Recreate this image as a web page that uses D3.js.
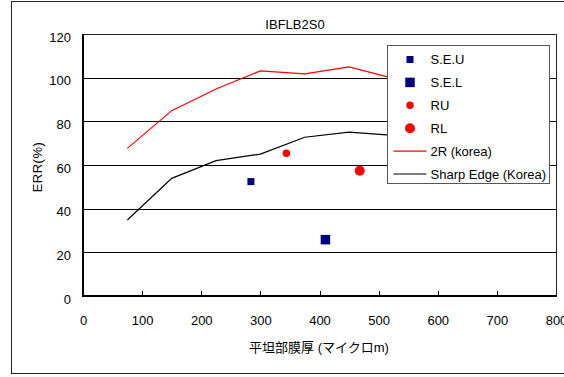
<!DOCTYPE html>
<html>
<head>
<meta charset="utf-8">
<script src="https://cdn.jsdelivr.net/npm/d3@7"></script>
<style>
  html, body { margin: 0; padding: 0; background: #fff; }
  svg { display: block; }
  text { font-family: "Liberation Sans", Arial, sans-serif; font-size: 13px; fill: #000; }
</style>
</head>
<body>
<svg id="chart" width="564" height="377"></svg>
<script>
// Film thickness (micron) vs ERR (%)
const chartTitle = "IBFLB2S0";
const xTicks = [0, 100, 200, 300, 400, 500, 600, 700, 800];
const yTicks = [0, 20, 40, 60, 80, 100, 120];

// Reference curves
const korea2R = [[75, 67.6], [150, 84.9], [225, 94.8], [300, 103.1], [375, 101.7], [450, 104.9], [525, 99.7]];
const sharpEdge = [[75, 34.8], [150, 53.9], [225, 62.0], [300, 65.0], [375, 72.7], [450, 75.1], [525, 73.6]];

// Measured points
const seU = [[284, 52.4]];
const seL = [[410, 25.8]];
const rU = [[344, 65.4]];
const rL = [[468, 57.4]];

const legendItems = [
  { label: "S.E.U", kind: "square", size: 7, color: "#000080" },
  { label: "S.E.L", kind: "square", size: 9.5, color: "#000080" },
  { label: "RU", kind: "circle", size: 7.5, color: "#ff0000" },
  { label: "RL", kind: "circle", size: 10, color: "#ff0000" },
  { label: "2R (korea)", kind: "line", color: "#ff0000" },
  { label: "Sharp Edge (Korea)", kind: "line", color: "#000000" }
];

const svg = d3.select("#chart");
const plot = { left: 83, top: 34, right: 556, bottom: 296 };

const x = d3.scaleLinear().domain([0, 800]).range([plot.left, plot.right]);
const y = d3.scaleLinear().domain([0, 120]).range([plot.bottom, plot.top]);

// outer frame
svg.append("rect")
  .attr("x", 11.5).attr("y", 1.5).attr("width", 600).attr("height", 372)
  .attr("fill", "none").attr("stroke", "#222").attr("stroke-width", 1);

// horizontal gridlines
svg.append("g")
  .selectAll("line")
  .data(yTicks.filter(d => d > 0 && d < 120))
  .join("line")
  .attr("x1", plot.left).attr("x2", plot.right)
  .attr("y1", d => Math.round(y(d)) + 0.5).attr("y2", d => Math.round(y(d)) + 0.5)
  .attr("stroke", "#000").attr("stroke-width", 1);

// plot border (top/right)
svg.append("path")
  .attr("d", `M${plot.left},${plot.top + 0.5}H${plot.right + 0.5}V${plot.bottom}`)
  .attr("fill", "none").attr("stroke", "#222").attr("stroke-width", 1);

// x axis
const xAxis = d3.axisBottom(x).tickValues(xTicks).tickSize(0).tickPadding(20);
const gx = svg.append("g").attr("transform", `translate(0,${plot.bottom})`).call(xAxis);
gx.select(".domain").remove();
gx.selectAll("text").attr("font-size", 13).attr("font-family", "Liberation Sans, Arial, sans-serif");
svg.append("g")
  .selectAll("line")
  .data(xTicks.filter(d => d > 0 && d < 800))
  .join("line")
  .attr("x1", d => Math.round(x(d)) + 0.5).attr("x2", d => Math.round(x(d)) + 0.5)
  .attr("y1", plot.bottom).attr("y2", plot.bottom - 5)
  .attr("stroke", "#000");

// y axis
const yAxis = d3.axisLeft(y).tickValues(yTicks).tickSize(0).tickPadding(12);
const gy = svg.append("g").attr("transform", `translate(${plot.left},0)`).call(yAxis);
gy.select(".domain").remove();
gy.selectAll("text").attr("font-size", 13).attr("font-family", "Liberation Sans, Arial, sans-serif").attr("dy", "0.55em");

// axis lines
svg.append("line")
  .attr("x1", plot.left).attr("x2", plot.left)
  .attr("y1", plot.top).attr("y2", plot.bottom + 1)
  .attr("stroke", "#000").attr("stroke-width", 2);
svg.append("line")
  .attr("x1", plot.left - 1).attr("x2", plot.right + 1)
  .attr("y1", plot.bottom).attr("y2", plot.bottom)
  .attr("stroke", "#000").attr("stroke-width", 2);

// title & axis labels
svg.append("text").attr("x", 295).attr("y", 29).attr("text-anchor", "middle").text(chartTitle);
const xl = svg.append("text").attr("x", 319).attr("y", 352).attr("text-anchor", "middle");
xl.append("tspan").attr("font-family", "Noto Sans CJK JP").attr("font-size", 13).text("平坦部膜厚");
xl.append("tspan").text(" (");
xl.append("tspan").attr("font-family", "Noto Sans CJK JP").attr("font-size", 13).text("マイクロ");
xl.append("tspan").text("m)");

svg.append("text")
  .attr("transform", "translate(42,167) rotate(-90)")
  .attr("text-anchor", "middle")
  .attr("letter-spacing", "0.5px")
  .text("ERR(%)");

// curves
const line = d3.line().x(d => x(d[0])).y(d => y(d[1]));
svg.append("path").datum(korea2R).attr("d", line)
  .attr("fill", "none").attr("stroke", "#ff0000").attr("stroke-width", 1.2);
svg.append("path").datum(sharpEdge).attr("d", line)
  .attr("fill", "none").attr("stroke", "#000").attr("stroke-width", 1.2);

// markers
function squares(data, size, color) {
  svg.append("g").selectAll("rect").data(data).join("rect")
    .attr("x", d => x(d[0]) - size / 2).attr("y", d => y(d[1]) - size / 2)
    .attr("width", size).attr("height", size).attr("fill", color);
}
function circles(data, size, color) {
  svg.append("g").selectAll("circle").data(data).join("circle")
    .attr("cx", d => x(d[0])).attr("cy", d => y(d[1]))
    .attr("r", size / 2).attr("fill", color);
}
squares(seU, legendItems[0].size, legendItems[0].color);
squares(seL, legendItems[1].size, legendItems[1].color);
circles(rU, legendItems[2].size, legendItems[2].color);
circles(rL, legendItems[3].size, legendItems[3].color);

// legend
const lg = svg.append("g").attr("transform", "translate(387.5,45.5)");
lg.append("rect").attr("width", 162).attr("height", 138)
  .attr("fill", "#fff").attr("stroke", "#555").attr("stroke-width", 1);
const rows = lg.selectAll("g").data(legendItems).join("g")
  .attr("transform", (d, i) => `translate(0,${14 + i * 22.9})`);
rows.each(function (d) {
  const g = d3.select(this);
  if (d.kind === "square") {
    g.append("rect").attr("x", 22.5 - d.size / 2).attr("y", -d.size / 2)
      .attr("width", d.size).attr("height", d.size).attr("fill", d.color);
  } else if (d.kind === "circle") {
    g.append("circle").attr("cx", 22.5).attr("r", d.size / 2).attr("fill", d.color);
  } else {
    g.append("line").attr("x1", 6).attr("x2", 39).attr("stroke", d.color).attr("stroke-width", 1.2);
  }
  g.append("text").attr("x", 43).attr("y", 4.5).text(d.label);
});
</script>
</body>
</html>
